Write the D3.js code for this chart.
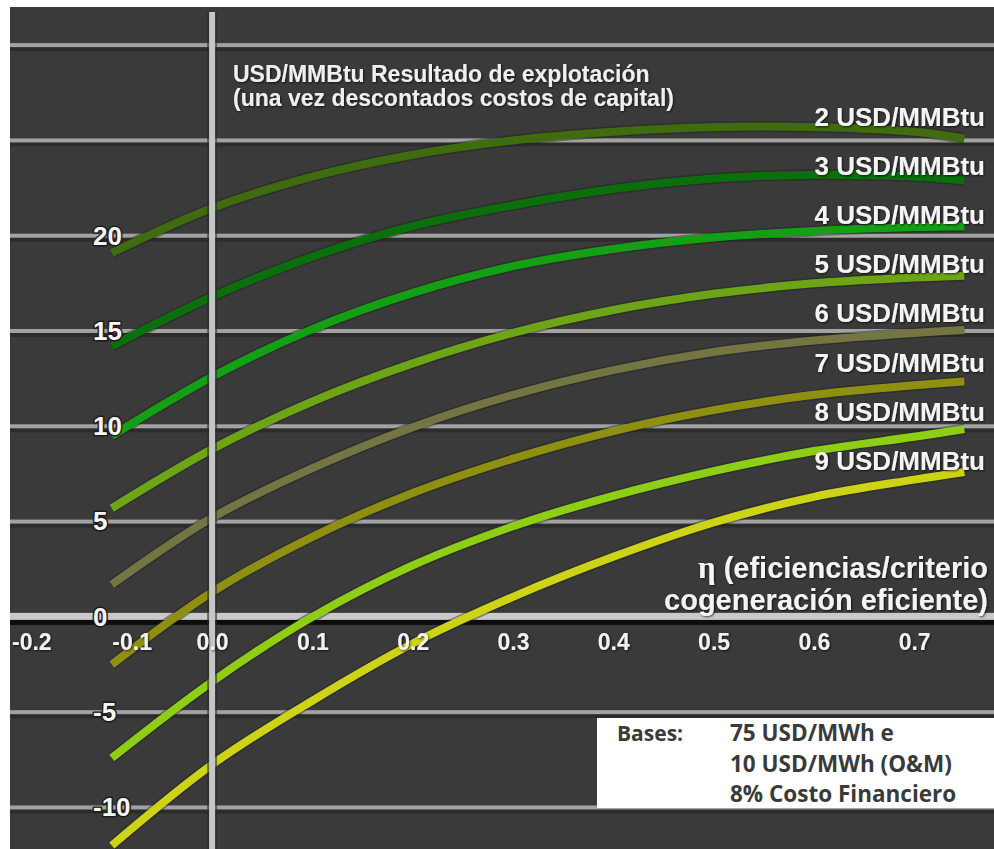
<!DOCTYPE html>
<html><head><meta charset="utf-8">
<script src="https://cdn.jsdelivr.net/npm/d3@7"></script>
<style>
html,body{margin:0;padding:0;background:#ffffff;}
svg{display:block;}
</style></head><body>
<svg id="chart" width="994" height="849"></svg>
<script>
// ---------- data ----------
const etaValues = [-0.1, 0, 0.1, 0.2, 0.3, 0.4, 0.5, 0.6, 0.7, 0.75];
const gas2 = [19.1, 21.45, 23.1, 24.25, 25.0, 25.45, 25.7, 25.7, 25.45, 25.1];
const gas3 = [14.2, 16.8, 18.9, 20.5, 21.6, 22.45, 23.0, 23.2, 23.1, 22.9];
const gas4 = [9.5, 12.6, 15.1, 17.0, 18.4, 19.3, 19.9, 20.25, 20.45, 20.5];
const gas5 = [5.7, 8.8, 11.3, 13.3, 14.9, 16.1, 16.95, 17.5, 17.8, 17.9];
const gas6 = [1.7, 5.2, 7.8, 9.95, 11.65, 12.95, 13.9, 14.5, 14.9, 15.05];
const gas7 = [-2.5, 1.3, 4.2, 6.5, 8.3, 9.75, 10.85, 11.65, 12.15, 12.35];
const gas8 = [-7.4, -3.4, 0.0, 2.7, 4.75, 6.35, 7.65, 8.7, 9.45, 9.85];
const gas9 = [-12.0, -7.75, -4.4, -1.4, 1.05, 3.15, 4.95, 6.3, 7.2, 7.6];
const seriesValues = [gas2, gas3, gas4, gas5, gas6, gas7, gas8, gas9];
const seriesNames = ["2 USD/MMBtu", "3 USD/MMBtu", "4 USD/MMBtu", "5 USD/MMBtu",
                     "6 USD/MMBtu", "7 USD/MMBtu", "8 USD/MMBtu", "9 USD/MMBtu"];
const xTickValues = [-0.2, -0.1, 0.0, 0.1, 0.2, 0.3, 0.4, 0.5, 0.6, 0.7];
const yTickValues = [20, 15, 10, 5, 0, -5, -10];
const gridValues = [30, 25, 20, 15, 10, 5, -5, -10];
const titleLines = ["USD/MMBtu Resultado de explotación", "(una vez descontados costos de capital)"];
const basesLabel = "Bases:";
const basesLines = ["75 USD/MWh e", "10 USD/MWh (O&M)", "8% Costo Financiero"];

// ---------- styles ----------
const colors = ["#3e6c0e", "#0b6f0b", "#14a014", "#6ea516", "#737543", "#8f9012", "#8ecf16", "#cdd317"];
const FONT = "'Liberation Sans', Arial, Helvetica, sans-serif";

const W = 994, H = 849;
const padLeft = 10, padTop = 7;
const svg = d3.select("#chart");

// scales: value -> pixel
const x = d3.scaleLinear().domain([-0.2015, 0.7796]).range([padLeft, W]);
const y = d3.scaleLinear().domain([32.0, -12.18]).range([padTop, H]);

const defs = svg.append("defs");
const f = defs.append("filter").attr("id", "shadow").attr("x", "-20%").attr("y", "-20%").attr("width", "140%").attr("height", "140%");
f.append("feDropShadow").attr("dx", 1).attr("dy", 1).attr("stdDeviation", 1).attr("flood-color", "#000").attr("flood-opacity", 0.7);

// background
svg.append("rect").attr("x", padLeft).attr("y", padTop).attr("width", W - padLeft).attr("height", H - padTop).attr("fill", "#3a3a3a");

// grid lines
const grid = svg.append("g");
grid.selectAll("rect.sh").data(gridValues).join("rect").attr("class", "sh")
  .attr("x", padLeft).attr("width", W - padLeft)
  .attr("y", d => y(d) + 2).attr("height", 4)
  .attr("fill", "#262626").attr("opacity", 0.7);
grid.selectAll("rect.gl").data(gridValues).join("rect").attr("class", "gl")
  .attr("x", padLeft).attr("width", W - padLeft)
  .attr("y", d => y(d) - 2).attr("height", 4)
  .attr("fill", "#a2a2a2");

// zero axis line
svg.append("rect").attr("x", padLeft).attr("width", W - padLeft).attr("y", y(0) + 3).attr("height", 5).attr("fill", "#0c0c0c");
svg.append("rect").attr("x", padLeft).attr("width", W - padLeft).attr("y", y(0) - 4).attr("height", 7).attr("fill", "#c9c9c9");

// curves
const line = d3.line().x(d => x(d[0])).y(d => y(d[1])).curve(d3.curveCatmullRom.alpha(0.5));
const curves = svg.append("g");
seriesValues.forEach((vals, i) => {
  const pts = etaValues.map((e, k) => [e, vals[k]]);
  curves.append("path").attr("d", line(pts)).attr("fill", "none")
    .attr("stroke", "#222").attr("stroke-opacity", 0.45).attr("stroke-width", 11);
  curves.append("path").attr("d", line(pts)).attr("fill", "none")
    .attr("stroke", colors[i]).attr("stroke-width", 8);
});

// vertical axis line (eta = 0)
svg.append("line").attr("x1", x(0)).attr("x2", x(0)).attr("y1", 12).attr("y2", H)
  .attr("stroke", "#2a2a2a").attr("stroke-width", 10).attr("stroke-opacity", 0.6);
svg.append("line").attr("x1", x(0)).attr("x2", x(0)).attr("y1", 12).attr("y2", H)
  .attr("stroke", "#c6c6c6").attr("stroke-width", 6);

// title
const title = svg.append("text").attr("font-family", FONT).attr("font-weight", "bold")
  .attr("font-size", 23).attr("fill", "#efefef").attr("filter", "url(#shadow)");
titleLines.forEach((t, i) => title.append("tspan").attr("x", 233).attr("y", 82 + i * 24).text(t));

// series labels
svg.append("g").selectAll("text").data(seriesNames).join("text")
  .attr("x", 985).attr("y", (d, i) => 126 + i * 49.1)
  .attr("text-anchor", "end").attr("font-family", FONT).attr("font-weight", "bold")
  .attr("font-size", 26).attr("fill", "#f4f4f4").attr("filter", "url(#shadow)")
  .text(d => d);

// y axis labels
const yAxis = d3.axisRight(y).tickValues(yTickValues).tickSize(0).tickPadding(0).tickFormat(d => String(d));
const yg = svg.append("g").attr("transform", "translate(93,0)").call(yAxis);
yg.select(".domain").remove();
yg.selectAll("text").attr("font-family", FONT).attr("font-weight", "bold").attr("font-size", 26)
  .attr("fill", "#f6f6f6").attr("stroke", "#1c1c1c").attr("stroke-width", 3)
  .attr("paint-order", "stroke").attr("stroke-linejoin", "round");

// x axis labels
const xAxis = d3.axisBottom(x).tickValues(xTickValues).tickSize(0).tickPadding(17)
  .tickFormat(d => d3.format(".1f")(d).replace("\u2212", "-"));
const xg = svg.append("g").attr("transform", `translate(0,${y(0)})`).call(xAxis);
xg.select(".domain").remove();
xg.selectAll("text").attr("font-family", FONT).attr("font-weight", "bold").attr("font-size", 23)
  .attr("fill", "#f2f2f2").attr("filter", "url(#shadow)")
  .attr("text-anchor", d => d < 0 ? "start" : "middle");

// x axis title
const xt = svg.append("text").attr("font-family", FONT).attr("font-weight", "bold")
  .attr("font-size", 29).attr("fill", "#f4f4f4").attr("text-anchor", "end").attr("filter", "url(#shadow)");
const l1 = xt.append("tspan").attr("x", 988).attr("y", 578);
l1.append("tspan").attr("font-family", "'Liberation Serif', 'DejaVu Serif', serif").attr("font-size", 31).text("η");
l1.append("tspan").text(" (eficiencias/criterio");
xt.append("tspan").attr("x", 988).attr("y", 610).text("cogeneración eficiente)");

// bases box
svg.append("rect").attr("x", 597).attr("y", 718).attr("width", W - 597).attr("height", 90).attr("fill", "#ffffff");
const bf = "'Open Sans', Lato, sans-serif";
svg.append("text").attr("x", 617).attr("y", 741).attr("font-family", bf).attr("font-weight", "bold")
  .attr("font-size", 21).attr("fill", "#3a3a3a").text(basesLabel);
svg.append("g").selectAll("text").data(basesLines).join("text")
  .attr("x", 730).attr("y", (d, i) => 741 + i * 30.5)
  .attr("font-family", bf).attr("font-weight", "bold").attr("font-size", 22.5).attr("fill", "#3a3a3a")
  .text(d => d);
</script>
</body></html>
